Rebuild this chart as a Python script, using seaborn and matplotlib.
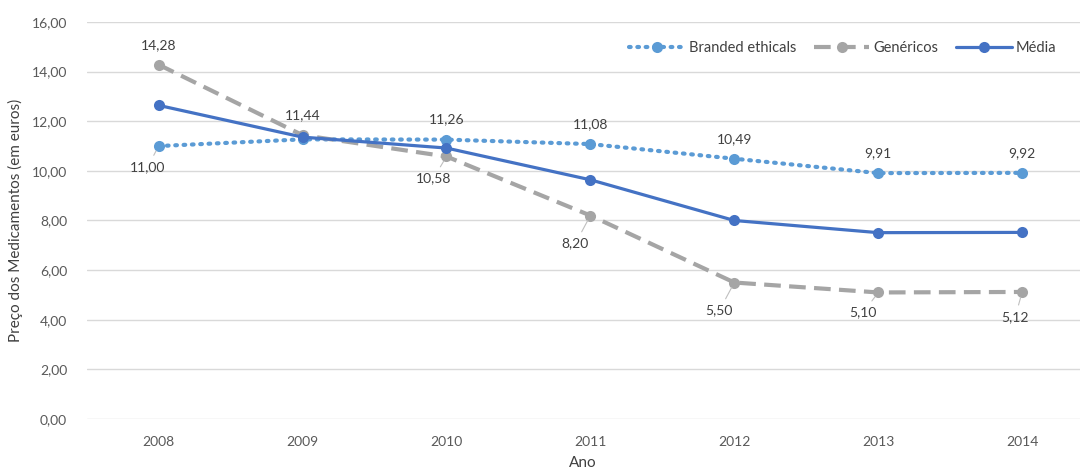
import matplotlib
matplotlib.use("Agg")
import matplotlib.pyplot as plt
from matplotlib.ticker import FuncFormatter
import seaborn as sns
import pandas as pd

# dados
anos = ["2008", "2009", "2010", "2011", "2012", "2013", "2014"]
branded = [11.00, 11.27, 11.26, 11.08, 10.49, 9.91, 9.92]
genericos = [14.28, 11.44, 10.58, 8.20, 5.50, 5.10, 5.12]
media = [12.64, 11.36, 10.92, 9.64, 8.00, 7.51, 7.52]

sns.set_theme(style="white")
plt.rcParams['font.family'] = ['Lato', 'DejaVu Sans']

fig = plt.figure(figsize=(10.83, 4.72), dpi=100)
ax = fig.add_axes([0.080, 0.1123, 0.917, 0.8411])

df = pd.DataFrame({"ano": list(range(len(anos))), "branded": branded,
                   "genericos": genericos, "media": media})

c_branded = "#5B9BD5"
c_gen = "#A5A5A5"
c_media = "#4472C4"

sns.lineplot(data=df, x="ano", y="branded", ax=ax, color=c_branded, lw=3,
             linestyle=(0, (0.4, 1.6)), dash_capstyle="round", marker="o",
             markersize=8, markeredgewidth=0, label="Branded ethicals")
sns.lineplot(data=df, x="ano", y="genericos", ax=ax, color=c_gen, lw=3,
             linestyle=(0, (4, 2)), marker="o", markersize=8,
             markeredgewidth=0, label="Genéricos")
sns.lineplot(data=df, x="ano", y="media", ax=ax, color=c_media, lw=2.3,
             marker="o", markersize=8, markeredgewidth=0, label="Média")

# rótulos de dados (offset em pontos), com linha de chamada quando necessário
txt = dict(fontsize=10, color="#404040", ha="center", va="center")
lead = dict(arrowstyle="-", color="#BFBFBF", lw=0.8, shrinkA=2, shrinkB=4)

def rotulo(i, v, dx, dy, linha=False):
    ax.annotate(f"{v:.2f}".replace(".", ","), xy=(i, v), xytext=(dx, dy),
                textcoords="offset pixels",
                arrowprops=lead if linha else None, **txt)

for i, v in enumerate(branded):
    if i == 0:
        rotulo(i, v, -11, -21, True)
    elif i != 1:
        rotulo(i, v, 0, 20)
for i, v in enumerate(genericos):
    if i in (0, 1):
        rotulo(i, v, 0, 20)
    elif i == 2:
        rotulo(i, v, -13, -22, True)
    elif i in (3, 4):
        rotulo(i, v, -15, -28, True)
    elif i == 5:
        rotulo(i, v, -15, -20, True)
    else:
        rotulo(i, v, -7, -25, True)

ax.set_ylim(0, 16)
ax.set_xlim(-0.5, 6.4)
ax.set_yticks(range(0, 17, 2))
ax.yaxis.set_major_formatter(FuncFormatter(lambda v, p: f"{v:.2f}".replace(".", ",")))
ax.set_xticks(range(len(anos)))
ax.set_xticklabels(anos)
ax.tick_params(axis="both", length=0, labelsize=10, colors="#595959")
ax.tick_params(axis="x", pad=12)
ax.tick_params(axis="y", pad=14)
ax.grid(axis="y", color="#D9D9D9", lw=1)
ax.set_axisbelow(True)
for s in ax.spines.values():
    s.set_visible(False)

ax.set_xlabel("Ano", fontsize=11, color="#404040", labelpad=6)
ax.set_ylabel("Preço dos Medicamentos (em euros)", fontsize=11, color="#404040", labelpad=6)

ax.legend(loc="upper right", bbox_to_anchor=(0.99, 0.985), ncol=3, frameon=False,
          fontsize=10.5, handlelength=3.8, columnspacing=1.2, handletextpad=0.3,
          labelcolor="#404040")

fig.savefig("out.png", dpi=100)
